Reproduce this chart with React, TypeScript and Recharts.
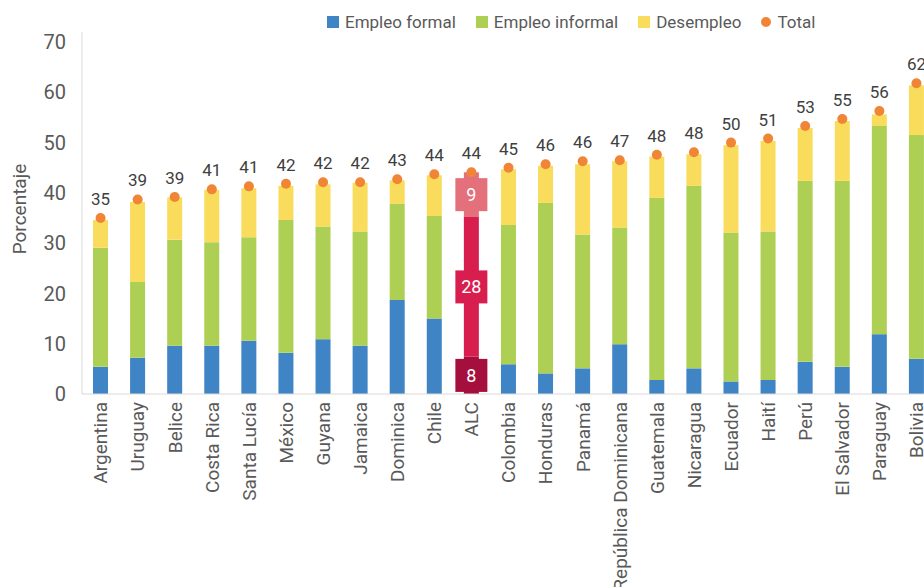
import React from "react";
import { ComposedChart, Bar, Line, XAxis, YAxis, Cell, LabelList, Legend } from "recharts";

const countries = [
  "Argentina", "Uruguay", "Belice", "Costa Rica", "Santa Lucía", "México", "Guyana", "Jamaica",
  "Dominica", "Chile", "ALC", "Colombia", "Honduras", "Panamá", "República Dominicana", "Guatemala",
  "Nicaragua", "Ecuador", "Haití", "Perú", "El Salvador", "Paraguay", "Bolivia",
];
const formal = [5.4, 7.2, 9.6, 9.6, 10.6, 8.2, 10.9, 9.6, 18.7, 15.0, 7.4, 5.9, 4.1, 5.1, 9.9, 2.8, 5.1, 2.5, 2.8, 6.4, 5.4, 11.9, 7.0];
const informal = [23.7, 15.1, 21.1, 20.6, 20.6, 26.4, 22.4, 22.7, 19.1, 20.4, 27.8, 27.7, 33.9, 26.6, 23.2, 36.2, 36.3, 29.6, 29.5, 36.0, 37.0, 41.4, 44.5];
const desempleo = [5.5, 15.9, 8.4, 10.4, 9.7, 6.8, 8.4, 9.7, 4.7, 8.1, 8.9, 11.1, 7.4, 14.0, 13.2, 8.2, 6.3, 17.4, 18.0, 10.5, 11.9, 2.3, 9.9];
const totals = [35.0, 38.7, 39.2, 40.7, 41.3, 41.8, 42.1, 42.1, 42.7, 43.7, 44.1, 45.0, 45.7, 46.3, 46.5, 47.6, 48.1, 50.0, 50.8, 53.3, 54.7, 56.3, 61.8];
const yTicks = [0, 10, 20, 30, 40, 50, 60, 70];

// regional average, drawn in its own colours with boxed labels
const alcName = "ALC";
const alcSegmentLabels = ["8", "28", "9"];

const data = countries.map((name, i) => ({
  name,
  formal: formal[i],
  informal: informal[i],
  desempleo: desempleo[i],
  total: totals[i],
}));

const FONT = "Roboto, 'Open Sans', sans-serif";
const colors = { formal: "#3F84C5", informal: "#ADD054", desempleo: "#F9DC5C", total: "#F08536" };
const alcColors = ["#A50F3D", "#D81E4E", "#E3707A"];

const legendItems = [
  { label: "Empleo formal", color: colors.formal, round: false },
  { label: "Empleo informal", color: colors.informal, round: false },
  { label: "Desempleo", color: colors.desempleo, round: false },
  { label: "Total", color: colors.total, round: true },
];

function LegendContent() {
  return (
    <div style={{ display: "flex", alignItems: "center", fontFamily: FONT, fontSize: 17, color: "#595959", whiteSpace: "nowrap" }}>
      {legendItems.map((it) => (
        <div key={it.label} style={{ display: "flex", alignItems: "center", marginRight: 20 }}>
          <span
            style={{
              display: "inline-block",
              width: it.round ? 10 : 12,
              height: it.round ? 10 : 12,
              borderRadius: it.round ? 5 : 0,
              background: it.color,
              marginRight: 6,
            }}
          />
          <span>{it.label}</span>
        </div>
      ))}
    </div>
  );
}

function CountryTick(props: any) {
  const { x, y, payload } = props;
  return (
    <text
      transform={`translate(${x},${y}) rotate(-90)`}
      x={-8}
      dy="0.36em"
      textAnchor="end"
      fontSize={19}
      fill="#595959"
      fontFamily={FONT}
    >
      {payload.value}
    </text>
  );
}

function AxisTitle(props: any) {
  const vb = props.viewBox || { x: 0, y: 32, height: 362 };
  const cx = vb.x + 19;
  const cy = vb.y + vb.height / 2 - 4;
  return (
    <text transform={`translate(${cx},${cy}) rotate(-90)`} textAnchor="middle" dy="0.36em" fontSize={19} fill="#595959" fontFamily={FONT}>
      Porcentaje
    </text>
  );
}

function pickBox(props: any) {
  const vb = props.viewBox || {};
  return {
    x: vb.x ?? props.x,
    y: vb.y ?? props.y,
    width: vb.width ?? props.width ?? 0,
    height: vb.height ?? props.height ?? 0,
  };
}

const makeAlcLabel = (k: number) => (props: any) => {
  if (countries[props.index] !== alcName) return null;
  const { x, y, width, height } = pickBox(props);
  const cx = x + width / 2;
  const cy = y + height / 2;
  return (
    <g>
      <rect x={cx - 16} y={cy - 16.5} width={32} height={33} fill={alcColors[k]} />
      <text x={cx} y={cy} dy="0.36em" textAnchor="middle" fill="#ffffff" fontSize={18} fontFamily={FONT}>
        {alcSegmentLabels[k]}
      </text>
    </g>
  );
};

function TotalLabel(props: any) {
  const { x, y } = pickBox(props);
  return (
    <text x={x} y={y - 13} textAnchor="middle" fontSize={17} fill="#404040" fontFamily={FONT}>
      {Math.round(props.value)}
    </text>
  );
}

export default function App() {
  return (
    <div style={{ position: "fixed", left: 0, top: 0, width: 924, height: 587, overflow: "hidden", background: "#fff" }}>
      <ComposedChart width={960} height={587} data={data} margin={{ top: 32, right: 25, left: 0, bottom: 0 }}>
        <XAxis
          dataKey="name"
          interval={0}
          height={193}
          tickSize={0}
          tickMargin={0}
          tickLine={false}
          axisLine={{ stroke: "#d9d9d9" }}
          tick={<CountryTick />}
        />
        <YAxis
          width={82}
          domain={[0, 72]}
          ticks={yTicks}
          tickLine={false}
          tickSize={0}
          tickMargin={16}
          axisLine={{ stroke: "#d9d9d9" }}
          tick={{ fontSize: 20, fill: "#595959", fontFamily: FONT }}
          label={<AxisTitle />}
        />
        <Legend
          layout="vertical"
          align="center"
          verticalAlign="middle"
          content={<LegendContent />}
          wrapperStyle={{ left: 327, top: 12, width: 560, height: 20 }}
        />
        <Bar dataKey="formal" stackId="a" barSize={15} fill={colors.formal} isAnimationActive={false}>
          {data.map((d) => (
            <Cell key={d.name} fill={d.name === alcName ? alcColors[0] : colors.formal} />
          ))}
          <LabelList dataKey="formal" content={makeAlcLabel(0)} />
        </Bar>
        <Bar dataKey="informal" stackId="a" barSize={15} fill={colors.informal} isAnimationActive={false}>
          {data.map((d) => (
            <Cell key={d.name} fill={d.name === alcName ? alcColors[1] : colors.informal} />
          ))}
          <LabelList dataKey="informal" content={makeAlcLabel(1)} />
        </Bar>
        <Bar dataKey="desempleo" stackId="a" barSize={15} fill={colors.desempleo} isAnimationActive={false}>
          {data.map((d) => (
            <Cell key={d.name} fill={d.name === alcName ? alcColors[2] : colors.desempleo} />
          ))}
          <LabelList dataKey="desempleo" content={makeAlcLabel(2)} />
        </Bar>
        <Line
          dataKey="total"
          stroke="none"
          dot={{ r: 5, fill: colors.total, stroke: "none" }}
          activeDot={false}
          isAnimationActive={false}
        >
          <LabelList dataKey="total" content={<TotalLabel />} />
        </Line>
      </ComposedChart>
    </div>
  );
}
